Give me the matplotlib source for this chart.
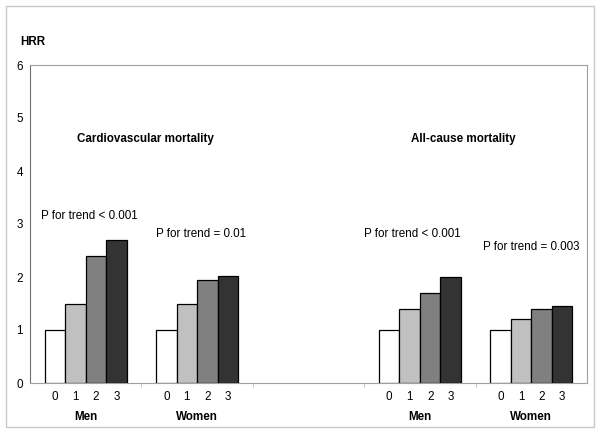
import matplotlib
matplotlib.use("Agg")
import matplotlib.pyplot as plt
from matplotlib.patches import Rectangle

plt.rcParams['font.family'] = ['Liberation Sans', 'DejaVu Sans']

# Data
groups = ["Men", "Women", "", "Men", "Women"]
levels = ["0", "1", "2", "3"]
cv_men = [1.0, 1.5, 2.4, 2.7]
cv_women = [1.0, 1.5, 1.95, 2.02]
all_men = [1.0, 1.4, 1.7, 2.0]
all_women = [1.0, 1.2, 1.4, 1.45]
series = [cv_men, cv_women, None, all_men, all_women]
colors = ["#ffffff", "#c0c0c0", "#808080", "#333333"]
yticks = [0, 1, 2, 3, 4, 5, 6]

fs = 8.4
fig = plt.figure(figsize=(6.0, 4.34), dpi=100)
fig.patches.append(Rectangle((6/600, 1 - 427/434), 588/600, 421/434, transform=fig.transFigure,
                             fill=False, edgecolor="#c8c8c8", linewidth=1))
ax = fig.add_axes([30/600, 1 - 383/434, 557/600, 318/434])

bw = 0.184
for gi, vals in enumerate(series):
    if vals is None:
        continue
    for li, v in enumerate(vals):
        x = gi + (li - 1.5) * bw
        ax.bar(x, v, width=bw, color=colors[li], edgecolor="black", linewidth=0.9, zorder=3)
        ax.text(x, -0.27, levels[li], ha="center", va="center", fontsize=fs)
    if groups[gi]:
        ax.text(gi, -0.65, groups[gi], ha="center", va="center", fontsize=fs, fontweight="bold")

ax.set_xlim(-0.5, 4.5)
ax.set_ylim(0, 6)
ax.set_yticks(yticks)
ax.set_yticklabels([str(t) for t in yticks], fontsize=fs)
ax.tick_params(axis="y", length=0, pad=5)
ax.set_xticks([0.5, 1.5, 2.5, 3.5])
ax.set_xticklabels([])
ax.tick_params(axis="x", length=3, color="#c8c8c8", direction="out")
for s in ["top", "right"]:
    ax.spines[s].set_color("#a0a0a0")
ax.spines["left"].set_color("#707070")
ax.spines["bottom"].set_color("#a0a0a0")

ax.text(0.54, 4.6, "Cardiovascular mortality", ha="center", va="center", fontsize=fs, fontweight="bold")
ax.text(3.39, 4.6, "All-cause mortality", ha="center", va="center", fontsize=fs, fontweight="bold")
ax.text(0.035, 3.16, "P for trend < 0.001", ha="center", va="center", fontsize=fs)
ax.text(1.04, 2.82, "P for trend = 0.01", ha="center", va="center", fontsize=fs)
ax.text(2.93, 2.82, "P for trend < 0.001", ha="center", va="center", fontsize=fs)
ax.text(4.0, 2.56, "P for trend = 0.003", ha="center", va="center", fontsize=fs)

fig.text(20/600, 1 - 42/434, "HRR", ha="left", va="center", fontsize=fs, fontweight="bold")

fig.savefig("out.png", dpi=100)
